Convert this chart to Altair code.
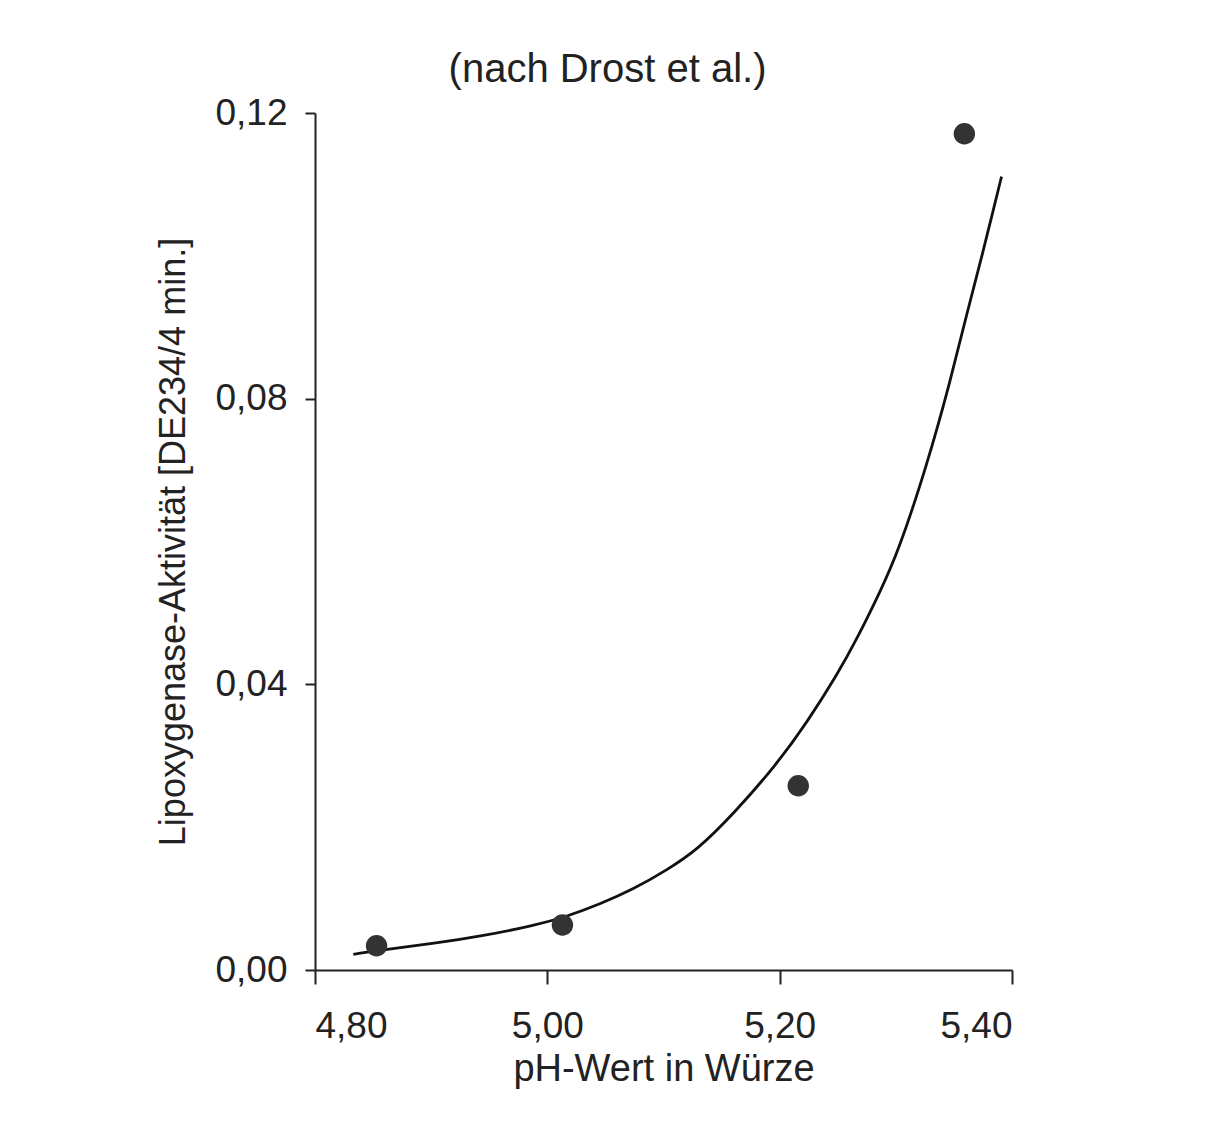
import altair as alt
import pandas as pd

# measured points
pt_ph = [4.853, 5.013, 5.216, 5.359]
pt_act = [0.0034, 0.0063, 0.0258, 0.1171]

# fitted curve
curve_ph = [4.833, 4.862, 4.902, 4.945, 4.988, 5.017, 5.045, 5.074, 5.103, 5.129,
            5.160, 5.198, 5.224, 5.249, 5.267, 5.286, 5.302, 5.327, 5.347, 5.362,
            5.375, 5.384, 5.391]
curve_act = [0.0022, 0.0029, 0.0037, 0.0048, 0.0062, 0.0075, 0.0092, 0.0113, 0.0140, 0.0168,
             0.0218, 0.0289, 0.0348, 0.0412, 0.0465, 0.0528, 0.0585, 0.0708, 0.0825, 0.0925,
             0.1005, 0.1065, 0.1111]

x_ticks = [4.8, 5.0, 5.2, 5.4]
y_ticks = [0.0, 0.04, 0.08, 0.12]

FONT = "Liberation Sans, Arial, sans-serif"

pts = pd.DataFrame({"ph": pt_ph, "act": pt_act})
crv = pd.DataFrame({"ph": curve_ph, "act": curve_act})

xscale = alt.Scale(domain=[4.8, 5.4], nice=False, zero=False)
yscale = alt.Scale(domain=[0, 0.12], nice=False)

xaxis = alt.Axis(values=x_ticks, title="pH-Wert in Würze", grid=False,
                 labelExpr="replace(format(datum.value, '.2f'), '.', ',')",
                 tickSize=14, tickWidth=2, tickColor="#222", domainColor="#222", domainWidth=2,
                 labelFont=FONT, labelFontSize=37, labelColor="#222", labelPadding=24,
                 titleFont=FONT, titleFontSize=38, titleFontWeight="normal", titleColor="#222",
                 titlePadding=6)
yaxis = alt.Axis(values=y_ticks, title="Lipoxygenase-Aktivität [DE234/4 min.]", grid=False,
                 labelExpr="replace(format(datum.value, '.2f'), '.', ',')",
                 tickSize=10, tickWidth=2, tickColor="#222", domainColor="#222", domainWidth=2,
                 labelFont=FONT, labelFontSize=37, labelColor="#222", labelPadding=18,
                 titleFont=FONT, titleFontSize=36, titleFontWeight="normal", titleColor="#222",
                 titlePadding=22)

line = alt.Chart(crv).mark_line(color="#111", strokeWidth=2.8, interpolate="basis").encode(
    x=alt.X("ph:Q", scale=xscale, axis=xaxis),
    y=alt.Y("act:Q", scale=yscale, axis=yaxis),
)
dots = alt.Chart(pts).mark_circle(color="#333", opacity=1, size=460).encode(
    x=alt.X("ph:Q", scale=xscale),
    y=alt.Y("act:Q", scale=yscale),
)

chart = alt.layer(line, dots).properties(
    width=697, height=857,
    title=alt.TitleParams("(nach Drost et al.)", font=FONT, fontSize=40, fontWeight="normal",
                          color="#222", anchor="middle", dx=-56, offset=4),
    autosize=alt.AutoSizeParams(type="none"),
    padding={"left": 307, "top": 105, "right": 200, "bottom": 140},
    background="white",
).configure_view(stroke=None)

chart.save("out.html", embed_options={"renderer": "svg", "actions": False})
